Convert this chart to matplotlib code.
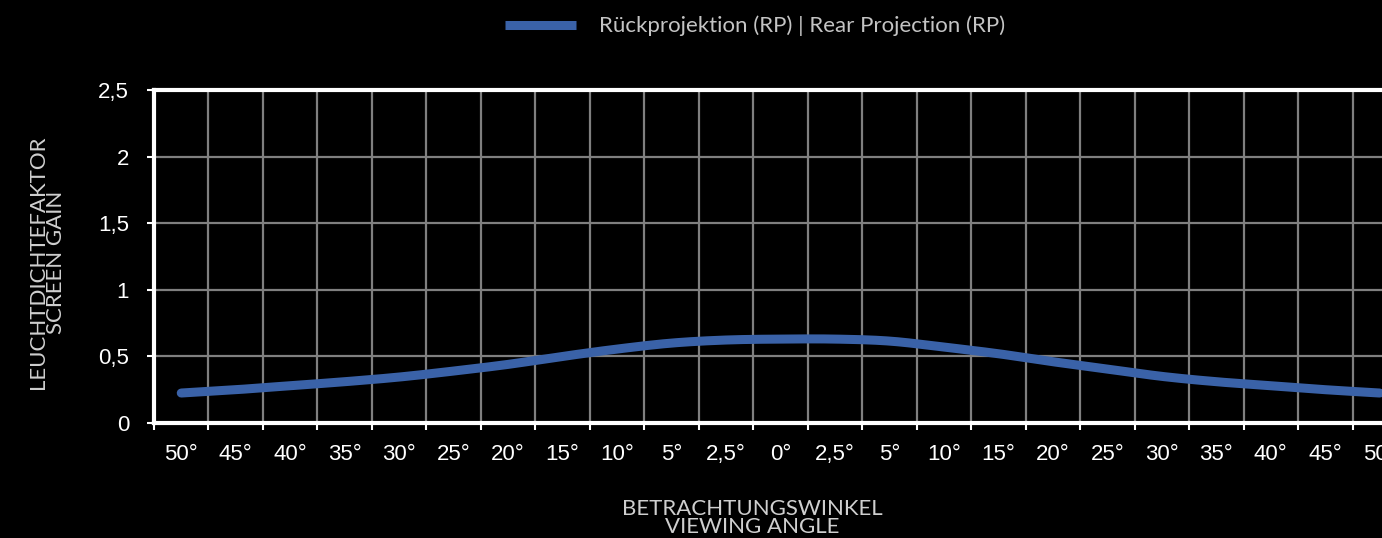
#screen gain chart - rear projection, dark background
import numpy as np
from matplotlib import pyplot as plt

#categories along the x axis (viewing angle, left and right of centre)
angles = ["50°", "45°", "40°", "35°", "30°", "25°", "20°", "15°", "10°", "5°", "2,5°", "0°",
          "2,5°", "5°", "10°", "15°", "20°", "25°", "30°", "35°", "40°", "45°", "50°"]
#gain
gain_rp = [0.225, 0.25, 0.28, 0.31, 0.345, 0.39, 0.44, 0.50, 0.555, 0.60, 0.623, 0.63,
           0.63, 0.615, 0.57, 0.52, 0.46, 0.405, 0.35, 0.31, 0.28, 0.25, 0.225]
y_ticks = [0, 0.5, 1, 1.5, 2, 2.5]
y_tick_labels = ["0", "0,5", "1", "1,5", "2", "2,5"]

series_label = "Rückprojektion (RP) | Rear Projection (RP)"
x_title = "BETRACHTUNGSWINKEL\nVIEWING ANGLE"
y_title = "LEUCHTDICHTEFAKTOR\nSCREEN GAIN"


#excel style smoothed line (catmull-rom through the points)
def smooth(x, y, n=20):
    x = np.asarray(x, float)
    y = np.asarray(y, float)
    px = np.concatenate([[x[0]], x, [x[-1]]])
    py = np.concatenate([[y[0]], y, [y[-1]]])
    xs, ys = [], []
    t = np.linspace(0, 1, n, endpoint=False)
    for i in range(1, len(px) - 2):
        for p, out in ((px, xs), (py, ys)):
            p0, p1, p2, p3 = p[i - 1], p[i], p[i + 1], p[i + 2]
            out.extend(0.5 * ((2 * p1) + (-p0 + p2) * t
                              + (2 * p0 - 5 * p1 + 4 * p2 - p3) * t ** 2
                              + (-p0 + 3 * p1 - 3 * p2 + p3) * t ** 3))
    xs.append(x[-1])
    ys.append(y[-1])
    return np.array(xs), np.array(ys)


fig = plt.figure(figsize=(13.82, 5.38), dpi=100, facecolor="black")
#axes runs past the right edge of the picture, like the original
ax = fig.add_axes([154 / 1382, 115 / 538, 1253 / 1382, 333 / 538], facecolor="black")

x = np.arange(len(angles))
sx, sy = smooth(x, gain_rp)
ax.plot(sx, sy, color="#3a62a8", linewidth=6.5, solid_capstyle="round",
        label=series_label, zorder=3)

ax.set_xlim(-0.5, len(angles) - 0.5)
ax.set_ylim(0, 2.5)
ax.set_xticks(x)
ax.set_xticklabels(angles)
ax.set_xticks(np.arange(len(angles) + 1) - 0.5, minor=True)
ax.set_yticks(y_ticks)
ax.set_yticklabels(y_tick_labels)

ax.grid(which="minor", axis="x", color="#7f7f7f", linewidth=1.6)
ax.grid(which="major", axis="y", color="#7f7f7f", linewidth=1.6)
ax.set_axisbelow(True)

ax.tick_params(axis="x", which="major", length=0, pad=15, labelsize=16, labelcolor="white")
ax.tick_params(axis="x", which="minor", length=5, width=1.5, color="white")
ax.tick_params(axis="y", length=5, width=1.5, color="white", pad=13,
               labelsize=16, labelcolor="white")
for lab in ax.get_xticklabels() + ax.get_yticklabels():
    lab.set_family("Liberation Sans")

for side in ["left", "bottom", "top", "right"]:
    ax.spines[side].set_color("white")
    ax.spines[side].set_linewidth(3)

fig.text(752 / 1382, 1 - 518 / 538, x_title, ha="center", va="center", color="#cfcfcf",
         fontsize=16, family="Lato", linespacing=0.92)
fig.text(47 / 1382, 1 - 262 / 538, y_title, ha="center", va="center", color="#cfcfcf",
         rotation=90, fontsize=16, family="Lato", linespacing=0.92,
         multialignment="center")

leg = fig.legend(loc="center", bbox_to_anchor=(755 / 1382, 1 - 26 / 538), frameon=False,
                 handlelength=3.2, handletextpad=1.0,
                 prop={"family": "Lato", "size": 16})
for t in leg.get_texts():
    t.set_color("#c4c4c4")
for h in leg.get_lines():
    h.set_solid_capstyle("butt")

fig.savefig("out.png", dpi=100, facecolor="black")
